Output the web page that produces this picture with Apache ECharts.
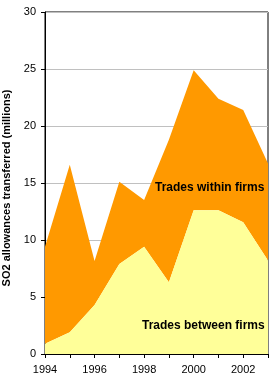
<!DOCTYPE html>
<html><head><meta charset="utf-8">
<script src="https://cdn.jsdelivr.net/npm/echarts@6/dist/echarts.min.js"></script>
<style>html,body{margin:0;padding:0;background:#fff}#c{width:280px;height:384px}</style>
</head><body><div id="c"></div>
<script>
const years = ['1994','1995','1996','1997','1998','1999','2000','2001','2002','2003'];
const betweenFirms = [0.9, 1.9, 4.3, 7.9, 9.4, 6.3, 12.6, 12.6, 11.55, 8.2];
const totalTrades = [9.4, 16.6, 8.15, 15.1, 13.5, 18.8, 24.9, 22.4, 21.4, 16.7];
const withinFirms = totalTrades.map((t, i) => +(t - betweenFirms[i]).toFixed(2));
const yTicks = [0, 5, 10, 15, 20, 25, 30];
const yTitle = 'SO2 allowances transferred (millions)';
const labelWithin = 'Trades within firms';
const labelBetween = 'Trades between firms';

const chart = echarts.init(document.getElementById('c'));
chart.setOption({
  animation: false,
  backgroundColor: '#fff',
  textStyle: { fontFamily: 'Liberation Sans, Arial, sans-serif' },
  grid: { left: 45, right: 12, top: 12, bottom: 30, containLabel: false, outerBoundsMode: 'none',
    show: true, borderColor: '#000', borderWidth: 1, backgroundColor: 'transparent' },
  xAxis: {
    type: 'category', data: years, boundaryGap: false,
    axisLine: { lineStyle: { color: '#000' } },
    axisTick: { show: true, interval: 0, length: 4, lineStyle: { color: '#000' } },
    axisLabel: { interval: 1, color: '#000', fontSize: 11, margin: 10 },
    splitLine: { show: false }
  },
  yAxis: {
    type: 'value', min: yTicks[0], max: yTicks[yTicks.length - 1], interval: 5,
    name: yTitle, nameLocation: 'middle', nameGap: 27, nameRotate: 90,
    nameTextStyle: { fontWeight: 'bold', fontSize: 11, color: '#000', padding: [0, 10, 0, 0] },
    axisLine: { show: true, lineStyle: { color: '#000' } },
    axisTick: { show: true, length: 4, lineStyle: { color: '#000' } },
    axisLabel: { color: '#000', fontSize: 11, margin: 9 },
    splitLine: { lineStyle: { color: '#c0c0c0', width: 1 } }
  },
  series: [
    { name: labelBetween, type: 'line', stack: 'a', data: betweenFirms, symbol: 'none',
      lineStyle: { width: 0 }, areaStyle: { color: '#FFFF99', opacity: 1 }, z: 3 },
    { name: labelWithin, type: 'line', stack: 'a', data: withinFirms, symbol: 'none',
      lineStyle: { width: 0 }, areaStyle: { color: '#FF9900', opacity: 1 }, z: 2 }
  ],
  graphic: [
    { type: 'text', left: 155, top: 182, z: 100,
      style: { text: labelWithin, font: 'bold 12px Liberation Sans, Arial, sans-serif', fill: '#000' } },
    { type: 'text', left: 142, top: 320, z: 100,
      style: { text: labelBetween, font: 'bold 12px Liberation Sans, Arial, sans-serif', fill: '#000' } }
  ]
});
</script></body></html>
